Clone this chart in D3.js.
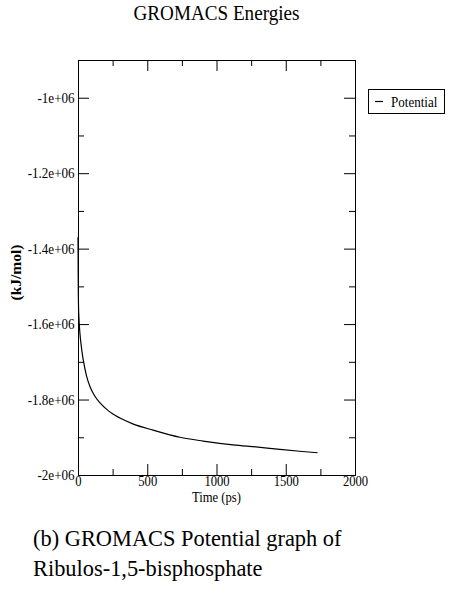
<!DOCTYPE html>
<html>
<head>
<meta charset="utf-8">
<script src="https://cdn.jsdelivr.net/npm/d3@7"></script>
<style>
  body { margin: 0; background: #fff; }
  svg { display: block; }
</style>
</head>
<body>
<svg id="chart" width="454" height="603"></svg>
<script>
// time (ps) / potential energy (kJ/mol)
const timePs = [0, 2, 5, 27, 38, 60, 87, 120, 159, 220, 303, 400, 542, 736, 903, 1119, 1300, 1458, 1600, 1730];
const potential = [-1.37e6, -1.50e6, -1.57e6, -1.668e6, -1.695e6, -1.735e6, -1.766e6, -1.79e6, -1.809e6, -1.83e6,
                   -1.849e6, -1.865e6, -1.881e6, -1.90e6, -1.91e6, -1.92e6, -1.926e6, -1.932e6, -1.937e6, -1.941e6];

const xTickValues = [0, 500, 1000, 1500, 2000];
const xTickLabels = ["0", "500", "1000", "1500", "2000"];
const xMinorValues = [250, 750, 1250, 1750];
const yTickValues = [-2e6, -1.8e6, -1.6e6, -1.4e6, -1.2e6, -1e6];
const yTickLabels = ["-2e+06", "-1.8e+06", "-1.6e+06", "-1.4e+06", "-1.2e+06", "-1e+06"];
const yMinorValues = [-1.9e6, -1.7e6, -1.5e6, -1.3e6, -1.1e6];
const seriesName = "Potential";

const plot = { left: 78, right: 355, top: 60, bottom: 475 };
const sq = 0.87; // the original text looks squeezed horizontally
const serif = "'Liberation Serif', 'Times New Roman', serif";

const svg = d3.select("#chart");

const xScale = d3.scaleLinear().domain([0, 2000]).range([plot.left, plot.right]);
const yScale = d3.scaleLinear().domain([-2e6, -0.9e6]).range([plot.bottom, plot.top]);

function squeeze(sel) {
    sel.attr("transform", `scale(${sq},1)`);
}

// 刻度 (ticks all point inward, on all four sides)
function drawTicks(axis, transform, labels) {
    const g = svg.append("g").attr("transform", transform).call(axis);
    g.select(".domain").remove();
    g.selectAll("line").attr("stroke", "#000");
    if (!labels) g.selectAll("text").remove();
    return g;
}

const bottom = drawTicks(
    d3.axisBottom(xScale).tickValues(xTickValues).tickSize(-11).tickPadding(1)
        .tickFormat((d, i) => xTickLabels[i]),
    `translate(0,${plot.bottom})`, true);
bottom.selectAll("text").style("font-size", "14.5px").call(squeeze);
drawTicks(d3.axisBottom(xScale).tickValues(xMinorValues).tickSize(-6), `translate(0,${plot.bottom})`, false);
drawTicks(d3.axisTop(xScale).tickValues(xTickValues).tickSize(-11), `translate(0,${plot.top})`, false);
drawTicks(d3.axisTop(xScale).tickValues(xMinorValues).tickSize(-6), `translate(0,${plot.top})`, false);

const left = drawTicks(
    d3.axisLeft(yScale).tickValues(yTickValues).tickSize(-11).tickPadding(4)
        .tickFormat((d, i) => yTickLabels[i]),
    `translate(${plot.left},0)`, true);
left.selectAll("text").style("font-size", "15px").call(squeeze);
drawTicks(d3.axisLeft(yScale).tickValues(yMinorValues).tickSize(-6), `translate(${plot.left},0)`, false);
drawTicks(d3.axisRight(yScale).tickValues(yTickValues).tickSize(-11), `translate(${plot.right},0)`, false);
drawTicks(d3.axisRight(yScale).tickValues(yMinorValues).tickSize(-6), `translate(${plot.right},0)`, false);

// frame
svg.append("rect")
    .attr("x", plot.left + 0.5)
    .attr("y", plot.top + 0.5)
    .attr("width", plot.right - plot.left)
    .attr("height", plot.bottom - plot.top)
    .attr("fill", "none")
    .attr("stroke", "#000")
    .attr("stroke-width", 1);

// the series
const data = timePs.map((t, i) => ({ t, v: potential[i] }));
const lineGen = d3.line().x(d => xScale(d.t)).y(d => yScale(d.v)).curve(d3.curveMonotoneX);
svg.append("path")
    .datum(data)
    .attr("fill", "none")
    .attr("stroke", "#000")
    .attr("stroke-width", 1.2)
    .attr("d", lineGen);

// title
svg.append("g")
    .attr("transform", `translate(${(plot.left + plot.right) / 2},19.5)`)
    .append("text")
    .attr("text-anchor", "middle")
    .style("font-size", "22px")
    .text("GROMACS Energies")
    .call(squeeze);

// axis labels
svg.append("g")
    .attr("transform", `translate(${(plot.left + plot.right) / 2},502)`)
    .append("text")
    .attr("text-anchor", "middle")
    .style("font-size", "14.5px")
    .text("Time (ps)")
    .call(squeeze);

svg.append("g")
    .attr("transform", `translate(21,${(plot.top + plot.bottom) / 2 + 5}) rotate(-90)`)
    .append("text")
    .attr("text-anchor", "middle")
    .attr("transform", "scale(1,0.9)")
    .style("font-size", "15.5px")
    .style("font-weight", "bold")
    .text("(kJ/mol)");

// legend
const legend = svg.append("g").attr("transform", "translate(368,89)");
legend.append("rect")
    .attr("x", 0.5).attr("y", 0.5)
    .attr("width", 76).attr("height", 24)
    .attr("fill", "#fff").attr("stroke", "#000");
legend.append("line")
    .attr("x1", 7).attr("x2", 15).attr("y1", 12.5).attr("y2", 12.5)
    .attr("stroke", "#000").attr("stroke-width", 1.2);
legend.append("g")
    .attr("transform", "translate(23,17.5)")
    .append("text")
    .style("font-size", "15px")
    .text(seriesName)
    .call(squeeze);

// caption under the figure
const caption = svg.append("text").style("font-size", "22.4px");
caption.append("tspan").attr("x", 33).attr("y", 546).text("(b) GROMACS Potential graph of");
caption.append("tspan").attr("x", 33).attr("y", 576).text("Ribulos-1,5-bisphosphate");

svg.selectAll("text").style("font-family", serif).attr("fill", "#000");
</script>
</body>
</html>
